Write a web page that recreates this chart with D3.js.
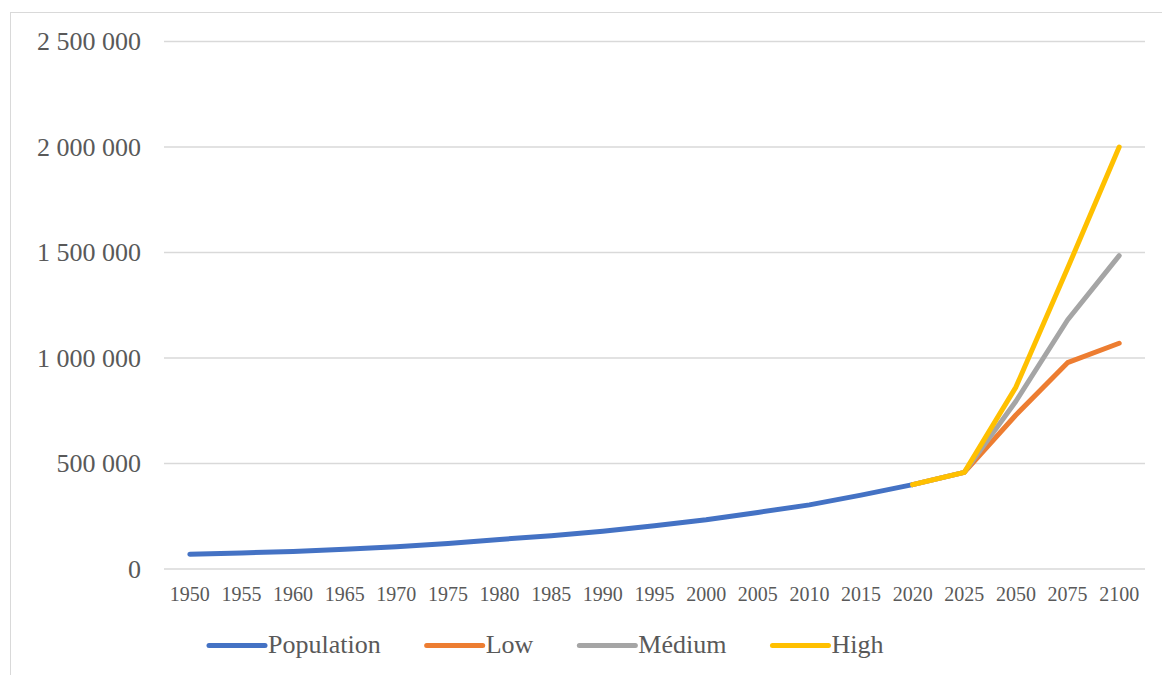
<!DOCTYPE html>
<html>
<head>
<meta charset="utf-8">
<script src="https://cdn.jsdelivr.net/npm/d3@7"></script>
<style>
  body { margin: 0; background: #fff; }
  text { font-family: "Liberation Serif", "Times New Roman", serif; fill: #595959; }
</style>
</head>
<body>
<div id="chart"></div>
<script>
// Categories on the x axis
const years = ["1950", "1955", "1960", "1965", "1970", "1975", "1980", "1985", "1990",
               "1995", "2000", "2005", "2010", "2015", "2020", "2025", "2050", "2075", "2100"];

// Observed population, 1950-2020
const populationYears = years.slice(0, 15);
const population = [70000, 76000, 83000, 94000, 106000, 121000, 140000, 158000, 179000,
                     205000, 233000, 268000, 304000, 350000, 400000];

// Projections, 2020-2100
const projYears = ["2020", "2025", "2050", "2075", "2100"];
const low    = [400000, 458000, 730000, 978000, 1070000];
const medium = [400000, 458000, 795000, 1180000, 1485000];
const high   = [400000, 458000, 862000, 1425000, 2000000];

const yTicks = [0, 500000, 1000000, 1500000, 2000000, 2500000];

const series = [
    {name: "Population", x: populationYears, values: population, color: "#4472C4"},
    {name: "Low", x: projYears, values: low, color: "#ED7D31"},
    {name: "Médium", x: projYears, values: medium, color: "#A5A5A5"},
    {name: "High", x: projYears, values: high, color: "#FFC000"}
];

const W = 1162, H = 675;
const margin = {top: 41.5, right: 17, bottom: 106, left: 164};

const svg = d3.select("#chart")
    .append("svg")
    .attr("width", W)
    .attr("height", H);

// Chart area border (only top and left visible in the frame)
svg.append("rect")
    .attr("x", 10.5).attr("y", 12.5)
    .attr("width", W).attr("height", H)
    .attr("fill", "none")
    .attr("stroke", "#d9d9d9")
    .attr("stroke-width", 1);

const x = d3.scalePoint()
    .domain(years)
    .range([margin.left, W - margin.right])
    .padding(0.5);

const y = d3.scaleLinear()
    .domain([0, 2500000])
    .range([H - margin.bottom, margin.top]);

const fmt = d3.formatLocale({decimal: ",", thousands: " ", grouping: [3], currency: ["", ""]}).format(",");

// Gridlines
svg.append("g")
    .selectAll("line")
    .data(yTicks)
    .enter()
    .append("line")
    .attr("x1", margin.left).attr("x2", W - margin.right)
    .attr("y1", d => y(d)).attr("y2", d => y(d))
    .attr("stroke", "#d9d9d9")
    .attr("stroke-width", 1.5);

// Y axis labels
svg.append("g")
    .selectAll("text")
    .data(yTicks)
    .enter()
    .append("text")
    .attr("x", 141)
    .attr("y", d => y(d))
    .attr("dy", "0.33em")
    .attr("text-anchor", "end")
    .style("font-size", "26px")
    .text(d => fmt(d));

// X axis labels
svg.append("g")
    .selectAll("text")
    .data(years)
    .enter()
    .append("text")
    .attr("x", d => x(d))
    .attr("y", 601)
    .attr("text-anchor", "middle")
    .style("font-size", "20px")
    .text(d => d);

// Lines
const line = d3.line()
    .x(d => x(d[0]))
    .y(d => y(d[1]));

series.forEach(s => {
    svg.append("path")
        .datum(d3.zip(s.x, s.values))
        .attr("fill", "none")
        .attr("stroke", s.color)
        .attr("stroke-width", 5)
        .attr("stroke-linecap", "round")
        .attr("stroke-linejoin", "round")
        .attr("d", line);
});

// Legend
const legend = svg.append("g").attr("transform", "translate(209, 0)");
let lx = 0;
series.forEach(s => {
    legend.append("line")
        .attr("x1", lx).attr("x2", lx + 56)
        .attr("y1", 645.5).attr("y2", 645.5)
        .attr("stroke", s.color)
        .attr("stroke-width", 5)
        .attr("stroke-linecap", "round");

    const t = legend.append("text")
        .attr("x", lx + 59)
        .attr("y", 653)
        .style("font-size", "26px")
        .text(s.name);

    lx += 59 + t.node().getComputedTextLength() + 46;
});
</script>
</body>
</html>
